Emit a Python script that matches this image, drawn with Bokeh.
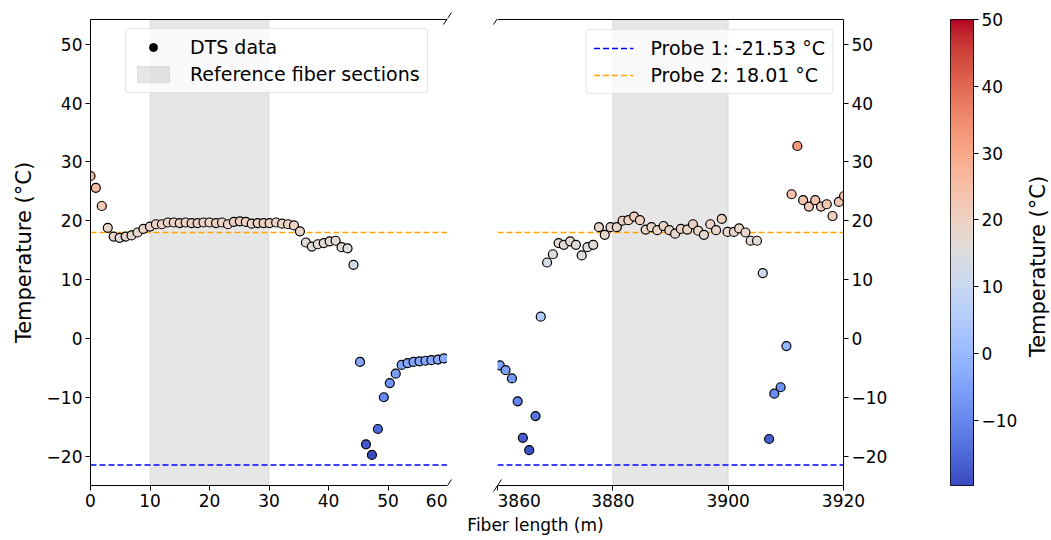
import numpy as np
from bokeh.plotting import figure
from bokeh.models import (ColumnDataSource, LinearColorMapper, BoxAnnotation, Span,
                          Legend, LegendItem, LinearAxis, FixedTicker, Arrow, Range1d)
from bokeh.layouts import row, column
from bokeh.core.properties import value
from bokeh.embed import file_html
from bokeh.resources import INLINE

# ---------------- data ----------------
left_length = [0.0, 0.9, 1.9, 2.9, 3.9, 4.9, 5.9, 6.9, 7.9, 8.9,
               10.0, 11.0, 12.0, 13.0, 14.0, 15.0, 16.0, 17.0, 18.0, 19.0,
               20.0, 21.1, 22.1, 23.1, 24.1, 25.1, 26.1, 27.1, 28.1, 29.1,
               30.1, 31.2, 32.2, 33.2, 34.2, 35.2, 36.2, 37.2, 38.2, 39.2,
               40.2, 41.2, 42.2, 43.2, 44.2, 45.3, 46.3, 47.3, 48.3, 49.3,
               50.3, 51.3, 52.3, 53.3, 54.3, 55.3, 56.3, 57.3, 58.4, 59.4]
left_temp = [27.6, 25.6, 22.5, 18.8, 17.3, 17.1, 17.3, 17.5, 18.0, 18.6,
             19.0, 19.4, 19.4, 19.7, 19.7, 19.6, 19.7, 19.6, 19.6, 19.7,
             19.7, 19.6, 19.7, 19.4, 19.8, 19.9, 19.8, 19.5, 19.6, 19.6,
             19.6, 19.7, 19.5, 19.4, 19.2, 18.2, 16.3, 15.6, 16.0, 16.2,
             16.5, 16.6, 15.5, 15.3, 12.5, -4.0, -18.0, -19.8, -15.4, -10.0,
             -7.6, -6.0, -4.5, -4.2, -4.0, -3.9, -3.8, -3.7, -3.6, -3.4]

right_length = [3860.4, 3861.4, 3862.5, 3863.5, 3864.4, 3865.5, 3866.6, 3867.5, 3868.6, 3869.6,
                3870.6, 3871.5, 3872.6, 3873.6, 3874.6, 3875.6, 3876.6, 3877.6, 3878.6, 3879.6,
                3880.7, 3881.7, 3882.7, 3883.7, 3884.7, 3885.7, 3886.7, 3887.7, 3888.8, 3889.8,
                3890.8, 3891.8, 3892.9, 3893.9, 3894.8, 3895.8, 3896.9, 3897.9, 3898.9, 3899.9,
                3901.0, 3901.9, 3903.0, 3903.9, 3905.0, 3906.0, 3907.1, 3908.0, 3909.1, 3910.1,
                3911.0, 3912.0, 3913.0, 3914.0, 3915.1, 3916.1, 3917.1, 3918.1, 3919.2, 3920.1]
right_temp = [-4.6, -5.4, -6.8, -10.7, -16.9, -19.0, -13.2, 3.7, 12.9, 14.3,
              16.2, 15.9, 16.5, 15.9, 14.1, 15.5, 15.9, 18.9, 17.6, 18.9,
              18.9, 20.0, 20.1, 20.7, 20.1, 18.5, 18.9, 18.4, 19.1, 18.4,
              17.8, 18.6, 18.5, 19.4, 18.3, 17.6, 19.4, 18.4, 20.3, 18.1,
              18.1, 18.7, 18.0, 16.6, 16.6, 11.1, -17.1, -9.4, -8.3, -1.3,
              24.5, 32.7, 23.5, 22.4, 23.5, 22.4, 22.8, 20.8, 23.2, 24.2]

probe1 = -21.53
probe2 = 18.01
ref_left = (10, 30)
ref_right = (3880, 3900)
left_xlim = (0, 60)
right_xlim = (3860, 3920)
ylim = (-25, 54.2)
y_ticks = [-20, -10, 0, 10, 20, 30, 40, 50]
left_ticks = [0, 10, 20, 30, 40, 50, 60]
right_ticks = [3860, 3880, 3900, 3920]
cbar_ticks = [-10, 0, 10, 20, 30, 40, 50]
minus_labels = {-20: "\u221220", -10: "\u221210"}
x_label = "Fiber length (m)"
y_label = "Temperature (\u00b0C)"
VMIN = min(min(left_temp), min(right_temp))
VMAX = 50

# matplotlib "coolwarm" anchor colours
cw = [(59, 76, 192), (68, 90, 204), (77, 104, 215), (87, 117, 225), (98, 130, 234),
      (108, 142, 241), (119, 154, 247), (130, 165, 251), (141, 176, 254), (152, 185, 255),
      (163, 194, 255), (174, 201, 253), (184, 208, 249), (194, 213, 244), (204, 217, 238),
      (213, 219, 230), (221, 221, 221), (229, 216, 209), (236, 211, 197), (241, 204, 185),
      (245, 196, 173), (247, 187, 160), (247, 177, 148), (247, 166, 135), (244, 154, 123),
      (241, 141, 111), (236, 127, 99), (229, 112, 88), (222, 96, 77), (213, 80, 66),
      (203, 62, 56), (192, 40, 47), (180, 4, 38)]
cw = np.array(cw, dtype=float)
tpos = np.linspace(0, 1, len(cw))
s = np.linspace(0, 1, 256)
palette = ["#%02x%02x%02x" % tuple(int(round(np.interp(v, tpos, cw[:, k]))) for k in range(3)) for v in s]
mapper = LinearColorMapper(palette=palette, low=VMIN, high=VMAX)

FONT = "DejaVu Sans"
TICK = "17px"
LAB = "21px"
XLAB = "17px"
LEG = "19px"
HM = 514          # height of the main row
TOP = 18
FRAME_H = 467
BOT = HM - TOP - FRAME_H


def style_axis(ax):
    ax.major_label_text_font = FONT
    ax.major_label_text_font_size = TICK
    ax.major_label_text_color = "black"
    ax.axis_label_text_font = FONT
    ax.axis_label_text_font_size = LAB
    ax.axis_label_text_font_style = "normal"
    ax.axis_label_text_color = "black"
    ax.minor_tick_line_color = None
    ax.major_tick_out = 5
    ax.major_tick_in = 0
    ax.axis_line_color = "black"
    ax.major_tick_line_color = "black"
    ax.major_label_standoff = 3


def blank(width, height, xr, yr):
    p = figure(width=width, height=height, x_range=Range1d(*xr), y_range=Range1d(*yr),
               x_axis_location=None, y_axis_location=None, output_backend="svg",
               toolbar_location=None, min_border=0, min_border_left=0, min_border_right=0,
               min_border_top=0, min_border_bottom=0)
    p.outline_line_color = None
    p.grid.visible = False
    try:
        p.frame_align = False
    except Exception:
        pass
    return p


def panel(xlim, width, mbl, mbr, yloc, xs, ts, band, xticks):
    p = figure(width=width, height=HM, x_range=Range1d(*xlim), y_range=Range1d(*ylim),
               y_axis_location=yloc, output_backend="svg", toolbar_location=None,
               min_border_left=mbl, min_border_right=mbr, min_border_top=TOP, min_border_bottom=BOT)
    p.outline_line_color = None
    p.grid.visible = False
    p.add_layout(BoxAnnotation(left=band[0], right=band[1], fill_color="gray", fill_alpha=0.2,
                               line_color="gray", line_alpha=0.2, level="underlay"))
    p.add_layout(Span(location=probe1, dimension="width", line_color="blue", line_width=1.5,
                      line_dash="6 3", level="underlay"))
    p.add_layout(Span(location=probe2, dimension="width", line_color="orange", line_width=1.5,
                      line_dash="6 3", level="underlay"))
    src = ColumnDataSource(dict(x=xs, t=ts))
    p.scatter("x", "t", source=src, size=9, marker="circle",
              fill_color={"field": "t", "transform": mapper}, line_color="black", line_width=1.2)
    style_axis(p.xaxis[0])
    p.xaxis[0].ticker = FixedTicker(ticks=xticks)
    style_axis(p.yaxis[0])
    p.yaxis[0].ticker = FixedTicker(ticks=y_ticks)
    p.yaxis[0].major_label_overrides = minus_labels
    top = LinearAxis(ticker=FixedTicker(ticks=[]), axis_line_color="black",
                     major_tick_line_color=None, minor_tick_line_color=None)
    p.add_layout(top, "above")
    return p


def legend(items, location):
    lg = Legend(items=items, location=location, label_text_font=FONT, label_text_font_size=LEG,
                label_text_color="black",
                glyph_width=40, glyph_height=20, label_height=20, spacing=5, padding=7,
                label_standoff=17, border_line_color="#cccccc", border_line_width=1,
                background_fill_alpha=0.8, margin=10)
    try:
        lg.border_radius = 4
    except Exception:
        pass
    return lg


# left panel
L = panel(left_xlim, 90 + 357, 90, 0, "left", left_length, left_temp, ref_left, left_ticks)
L.yaxis[0].axis_label = y_label
L.yaxis[0].axis_label_standoff = 8
nan = [float("nan")]
dts = L.scatter(x=nan, y=nan, size=10, marker="circle", fill_color="black", line_color="black")
ref = L.quad(left=nan, right=nan, top=nan, bottom=nan, fill_color="gray", fill_alpha=0.2,
             line_color="gray", line_alpha=0.2)
L.add_layout(legend([LegendItem(label="DTS data", renderers=[dts]),
                     LegendItem(label="Reference fiber sections", renderers=[ref])], (35, 392)))
for (x0, y0, x1, y1) in [(353, 461, 361, 473), (353, -6, 361, 6)]:
    L.add_layout(Arrow(x_start=x0, y_start=y0, x_end=x1, y_end=y1, start_units="screen",
                       end_units="screen", end=None, line_color="black", line_width=1))

# gap between the two panels (carries the axis-break marks)
G = blank(50, HM, (0, 50), (0, HM))
G.segment(x0=[-4, -4, 46, 46], y0=[HM - TOP - 6, BOT - 6, HM - TOP - 6, BOT - 6],
          x1=[4, 4, 54, 54], y1=[HM - TOP + 6, BOT + 6, HM - TOP + 6, BOT + 6],
          line_color="black", line_width=1)

# right panel
R = panel(right_xlim, 346 + 50, 0, 50, "right", right_length, right_temp, ref_right, right_ticks)
l1 = R.line(x=nan, y=nan, line_color="blue", line_dash="6 3", line_width=1.5)
l2 = R.line(x=nan, y=nan, line_color="orange", line_dash="6 3", line_width=1.5)
R.add_layout(legend([LegendItem(label="Probe 1: %.2f \u00b0C" % probe1, renderers=[l1]),
                     LegendItem(label="Probe 2: %.2f \u00b0C" % probe2, renderers=[l2])], "top_right"))
for (x0, y0, x1, y1) in [(-4, 461, 4, 473), (-4, -6, 4, 6)]:
    R.add_layout(Arrow(x_start=x0, y_start=y0, x_end=x1, y_end=y1, start_units="screen",
                       end_units="screen", end=None, line_color="black", line_width=1))

# colour bar
C = figure(width=130, height=HM, x_range=Range1d(0, 1), y_range=Range1d(VMIN, VMAX),
           y_axis_location="right", output_backend="svg", toolbar_location=None,
           min_border_left=57, min_border_right=50, min_border_top=19, min_border_bottom=HM - 19 - 468)
C.xaxis.visible = False
C.grid.visible = False
C.outline_line_color = "black"
C.outline_line_width = 1
grad = np.linspace(VMIN, VMAX, 256).reshape(256, 1)
C.image(image=[grad], x=0, y=VMIN, dw=1, dh=VMAX - VMIN, color_mapper=mapper)
style_axis(C.yaxis[0])
C.yaxis[0].ticker = FixedTicker(ticks=cbar_ticks)
C.yaxis[0].major_label_overrides = minus_labels

# colour-bar label
CL = blank(28, HM, (0, 28), (0, HM))
CL.text(x=[14], y=[HM - 266], text=[y_label], angle=np.pi / 2, text_align="center",
        text_baseline="middle", text_font=value(FONT), text_font_size=LAB, text_color="black")

# shared x label
X = blank(1051, 24, (0, 1051), (0, 24))
X.text(x=[535], y=[14], text=[x_label], text_align="center", text_baseline="middle",
       text_font=value(FONT), text_font_size=XLAB, text_color="black")

layout = column(row(L, G, R, C, CL), X)
open("out.html", "w").write(file_html(layout, INLINE))
